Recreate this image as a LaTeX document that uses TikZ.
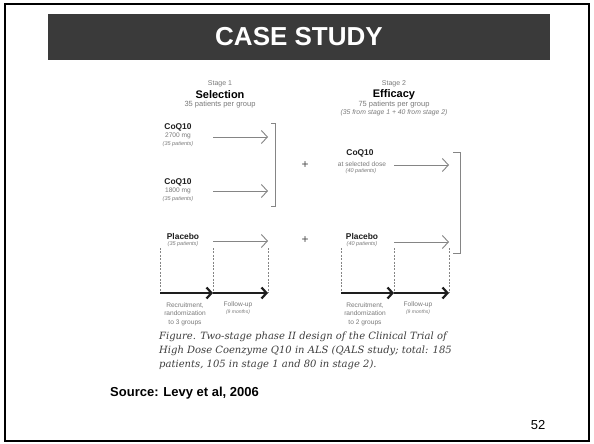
\documentclass[tikz,border=0pt]{standalone}
\usepackage{fontspec}
\newfontfamily\hv{Liberation Sans}
\newfontfamily\capf{DejaVu Serif}
\usetikzlibrary{arrows.meta}
\newcommand{\myfs}[2]{\fontsize{#1}{#2}\selectfont}
\definecolor{barc}{HTML}{3A3A3A}
\definecolor{lgray}{HTML}{7A7A7A}
\definecolor{agray}{HTML}{858585}
\definecolor{dk}{HTML}{1E1E1E}
\definecolor{capc}{HTML}{3E3E3E}
\tikzset{
  lbl/.style={inner sep=0pt, text=lgray, font=\hv\myfs{7}{8.5}, align=center},
  sublbl/.style={inner sep=0pt, text=lgray, font=\hv\itshape\myfs{5.5}{6.5}},
  doselbl/.style={inner sep=0pt, text=lgray, font=\hv\myfs{6.6}{7.5}},
  head/.style={inner sep=0pt, text=black, font=\hv\bfseries\myfs{11}{12}},
  arm/.style={inner sep=0pt, text=dk, font=\hv\bfseries\myfs{8.4}{9}},
  thinarr/.style={draw=agray, line width=0.9pt, -{Straight Barb[length=6pt,width=13pt,line width=0.9pt]}},
  thickarr/.style={draw=dk, line width=2.6pt, -{Straight Barb[length=5pt,width=11pt,line width=2.2pt]}},
  brk/.style={draw=agray, line width=1pt},
  dline/.style={draw=agray, line width=0.8pt, dash pattern=on 2pt off 1.4pt},
  plus/.style={inner sep=0pt, text=dk!80, font=\hv\myfs{12}{13}},
  caption/.style={inner sep=0pt, anchor=west, text=capc, font=\capf\itshape\myfs{10}{11}}
}
\begin{document}
\begin{tikzpicture}[x=1pt,y=-1pt]
\useasboundingbox (0,0) rectangle (594,444);
\fill[white] (0,0) rectangle (594,444);
\draw[black, line width=2pt] (5,4) rectangle (589,441);
% title bar
\node[fill=barc, minimum width=502pt, minimum height=46pt, inner sep=0pt,
      text=white, font=\hv\bfseries\myfs{26}{30}] (title) at (299,37) {CASE STUDY};
% headers
\node[lbl] (s1) at (220,84) {Stage 1};
\node[head] (sel) at (220,95) {Selection};
\node[lbl, font=\hv\myfs{7.5}{8.5}] (s1p) at (220,105) {35 patients per group};
\node[lbl] (s2) at (394,84) {Stage 2};
\node[head] (eff) at (394,95) {Efficacy};
\node[lbl, font=\hv\myfs{7.5}{8.5}] (s2p) at (394,105) {75 patients per group};
\node[sublbl, font=\hv\itshape\myfs{6.8}{8}] (s2q) at (394,113) {(35 from stage 1 + 40 from stage 2)};
% stage 1 arms
\node[arm] (c1) at (178,127) {CoQ10};
\node[doselbl] (c1d) at (178,136) {2700 mg};
\node[sublbl] (c1p) at (178,144) {(35 patients)};
\node[arm] (c2) at (178,182) {CoQ10};
\node[doselbl] (c2d) at (178,191) {1800 mg};
\node[sublbl] (c2p) at (178,199) {(35 patients)};
\node[arm] (p1) at (183,236) {Placebo};
\node[sublbl] (p1p) at (183,244) {(35 patients)};
% stage 2 arms
\node[arm] (c3) at (360,153) {CoQ10};
\node[doselbl] (c3d) at (362,164) {at selected dose};
\node[sublbl] (c3p) at (361,171) {(40 patients)};
\node[arm] (p2) at (362,236) {Placebo};
\node[sublbl] (p2p) at (362,244) {(40 patients)};
% plus signs
\node[plus] (pl1) at (305,165) {+};
\node[plus] (pl2) at (305,240) {+};
% arrow coordinates
\coordinate (a1s) at (213,137); \coordinate (a1e) at (268,137);
\coordinate (a2s) at (213,191); \coordinate (a2e) at (268,191);
\coordinate (a3s) at (213,241); \coordinate (a3e) at (268,241);
\coordinate (a4s) at (394,165); \coordinate (a4e) at (449,165);
\coordinate (a5s) at (394,242); \coordinate (a5e) at (449,242);
\draw[thinarr] (a1s) -- (a1e);
\draw[thinarr] (a2s) -- (a2e);
\draw[thinarr] (a3s) -- (a3e);
\draw[thinarr] (a4s) -- (a4e);
\draw[thinarr] (a5s) -- (a5e);
% brackets
\coordinate (b1a) at (271,123); \coordinate (b1b) at (275,123);
\coordinate (b1c) at (275,206); \coordinate (b1d) at (271,206);
\draw[brk] (b1a) -- (b1b) -- (b1c) -- (b1d);
\coordinate (b2a) at (453,152); \coordinate (b2b) at (460,152);
\coordinate (b2c) at (460,253); \coordinate (b2d) at (453,253);
\draw[brk] (b2a) -- (b2b) -- (b2c) -- (b2d);
% timelines
\foreach \n/\x in {t1/160,t2/213,t3/268,u1/341,u2/394,u3/449}{
  \coordinate (\n top) at (\x,248);
  \coordinate (\n bot) at (\x,293);
  \draw[dline] (\n top) -- (\n bot);
}
\draw[thickarr] (t1bot) -- (t2bot);
\draw[thickarr] (t2bot) -- (t3bot);
\draw[thickarr] (u1bot) -- (u2bot);
\draw[thickarr] (u2bot) -- (u3bot);
% timeline labels
\node[lbl, font=\hv\myfs{6.6}{8.6}] (r1) at (185,314) {Recruitment,\\randomization\\to 3 groups};
\node[lbl, font=\hv\myfs{6.6}{8}] (f1) at (238,305) {Follow-up};
\node[sublbl, font=\hv\itshape\myfs{5}{6}] (f1m) at (238,312) {(9 months)};
\node[lbl, font=\hv\myfs{6.6}{8.6}] (r2) at (365,314) {Recruitment,\\randomization\\to 2 groups};
\node[lbl, font=\hv\myfs{6.6}{8}] (f2) at (418,305) {Follow-up};
\node[sublbl, font=\hv\itshape\myfs{5}{6}] (f2m) at (418,312) {(9 months)};
% caption
\node[caption] (cap1) at (159,337) {Figure. Two-stage phase II design of the Clinical Trial of};
\node[caption] (cap2) at (159,351) {High Dose Coenzyme Q10 in ALS (QALS study; total: 185};
\node[caption] (cap3) at (159,365) {patients, 105 in stage 1 and 80 in stage 2).};
% source and page number
\node[inner sep=0pt, anchor=west, font=\hv\bfseries\myfs{13}{15}] (src) at (110,393) {Source: Levy et al, 2006};
\node[inner sep=0pt, font=\hv\myfs{13}{15}] (pg) at (538,425) {52};
\end{tikzpicture}
\end{document}
